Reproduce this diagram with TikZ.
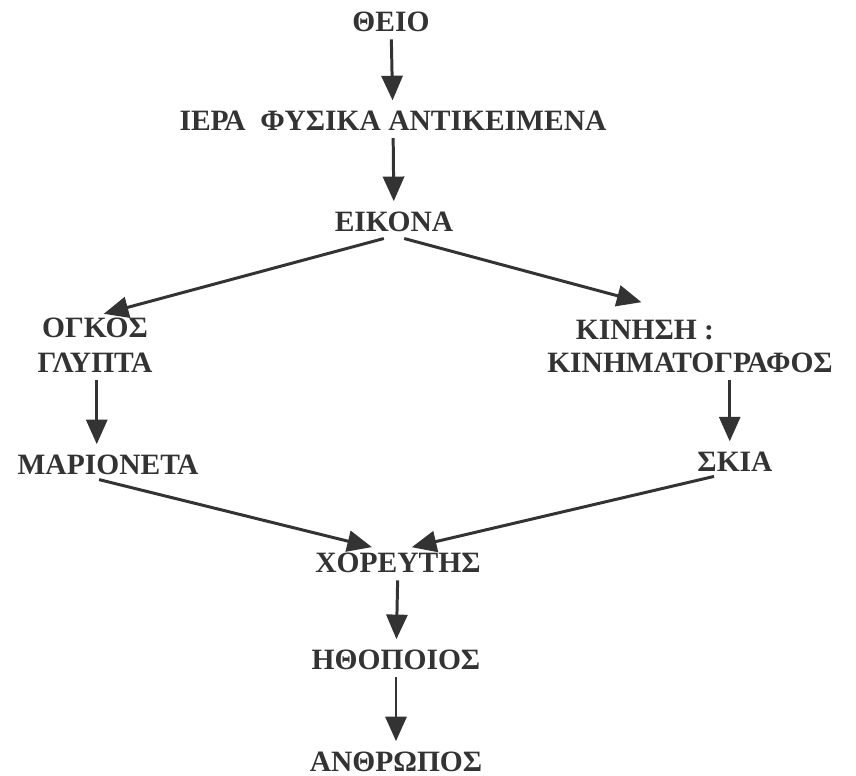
\documentclass[tikz,border=0pt]{standalone}
\usepackage{fontspec}
\setmainfont{Liberation Serif}
\usetikzlibrary{arrows.meta, positioning}

\tikzset{
  lbl/.style={font=\bfseries\fontsize{16.8}{20}\selectfont, inner sep=2pt, text=black!80},
  flow/.style={-{Triangle[length=14pt, width=12pt]}, line width=1.7pt, draw=black!80,
    shorten <=2pt, shorten >=4pt},
}

\begin{document}
\begin{tikzpicture}[x=0.02cm, y=-0.02cm]
  \useasboundingbox (0,0) rectangle (856,776);

  % κεντρικός άξονας
  \node[lbl] (theio) at (391,22) {ΘΕΙΟ};
  \node[lbl] (iera) at (393,121) {ΙΕΡΑ\ \ ΦΥΣΙΚΑ ΑΝΤΙΚΕΙΜΕΝΑ};
  \node[lbl] (eikona) at (394,222) {ΕΙΚΟΝΑ};

  % αριστερός κλάδος
  \node[lbl, align=center] (ogkos) at (95,345) {ΟΓΚΟΣ\\ΓΛΥΠΤΑ};
  \node[lbl] (marioneta) at (108,465) {ΜΑΡΙΟΝΕΤΑ};

  % δεξιός κλάδος
  \node[lbl, anchor=west] (kinisi) at (572,330) {ΚΙΝΗΣΗ :};
  \node[lbl] (kinimat) at (690,363) {ΚΙΝΗΜΑΤΟΓΡΑΦΟΣ};
  \node[lbl] (skia) at (735,462) {ΣΚΙΑ};

  % κάτω μέρος
  \node[lbl] (xoreutis) at (398,563) {ΧΟΡΕΥΤΗΣ};
  \node[lbl] (ithopoios) at (396,660) {ΗΘΟΠΟΙΟΣ};
  \node[lbl] (anthropos) at (396,762) {ΑΝΘΡΩΠΟΣ};

  % βέλη
  \draw[flow] (theio) -- (iera);
  \draw[flow] (iera) -- (eikona);
  \draw[flow, shorten <=6pt, shorten >=0pt] (eikona.south) -- ([xshift=5pt]ogkos.north);
  \draw[flow, shorten <=6pt, shorten >=0pt] (eikona.south) -- ([xshift=-2pt, yshift=8pt]kinisi.north);
  \draw[flow] ([xshift=1pt]ogkos.south) -- ([xshift=1pt]ogkos.south |- marioneta.north);
  \draw[flow] ([xshift=-3pt]skia.north |- kinimat.south) -- ([xshift=-3pt]skia.north);
  \draw[flow, shorten >=5pt] ([xshift=-7pt]marioneta.south) -- ([xshift=-10pt]xoreutis.north);
  \draw[flow, shorten >=5pt] ([xshift=-10pt]skia.south) -- ([xshift=3pt]xoreutis.north);
  \draw[flow] (xoreutis) -- (ithopoios);
  \draw[flow] (ithopoios) -- (anthropos);
\end{tikzpicture}
\end{document}
